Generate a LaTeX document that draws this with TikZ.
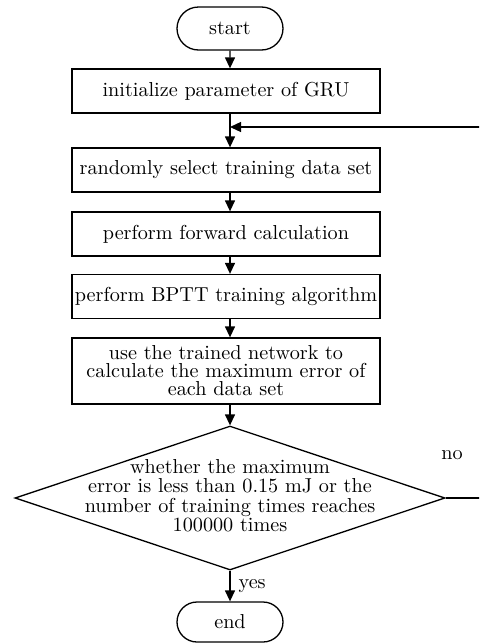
\documentclass[tikz,border=0pt]{standalone}
\usetikzlibrary{shapes.geometric,shapes.misc,arrows.meta}
\begin{document}
\begin{tikzpicture}[x=0.5pt,y=-0.5pt,
  txt/.style={font=\fontsize{10.1}{9}\selectfont},
  procbox/.style={draw, line width=0.65pt, minimum width=154pt, minimum height=22pt, inner sep=0pt, align=center, txt},
  term/.style={draw, rounded rectangle, line width=0.65pt, minimum width=53pt, minimum height=21.5pt, inner sep=0pt, txt},
  decide/.style={draw, diamond, line width=0.65pt, minimum width=215pt, minimum height=72pt, inner sep=0pt, txt},
  arr/.style={line width=0.65pt, -{Triangle[length=5.5pt,width=5pt]}},
  lbl/.style={txt, inner sep=0pt}]
\useasboundingbox (0,0) rectangle (479,643);
\clip (0,0) rectangle (479,643);

\node[term] (start) at (230,28.5) {start};
\node[procbox] (b1) at (226,91) {initialize parameter of GRU};
\node[procbox] (b2) at (226,170) {randomly select training data set};
\node[procbox] (b3) at (226,234) {perform forward calculation};
\node[procbox] (b4) at (226,296.5) {perform BPTT training algorithm};
\node[procbox, minimum height=33pt] (b5) at (226,371) {use the trained network to\\calculate the maximum error of\\each data set};
\node[decide] (dec) at (230,498) {\makebox[0pt]{\raisebox{-2.5pt}[0pt][0pt]{\begin{tabular}{@{}c@{}}whether the maximum\\error is less than 0.15 mJ or the\\number of training times reaches\\100000 times\end{tabular}}}};
\node[term, minimum height=20pt] (end) at (230,622) {end};

\coordinate (J) at (230,127);
\coordinate (R1) at (500,498);

\draw[arr] (start) -- (start |- b1.north);
\draw[arr] (start |- b1.south) -- (start |- b2.north);
\draw[arr] (start |- b2.south) -- (start |- b3.north);
\draw[arr] (start |- b3.south) -- (start |- b4.north);
\draw[arr] (start |- b4.south) -- (start |- b5.north);
\draw[arr] (start |- b5.south) -- (dec.north);
\draw[arr] (dec.south) -- (end.north) node[lbl, midway, right, xshift=4pt] (yes) {yes};
\draw[arr] (dec.east) -- (R1) |- (J);
\node[lbl] (no) at (452,455) {no};
\end{tikzpicture}
\end{document}
